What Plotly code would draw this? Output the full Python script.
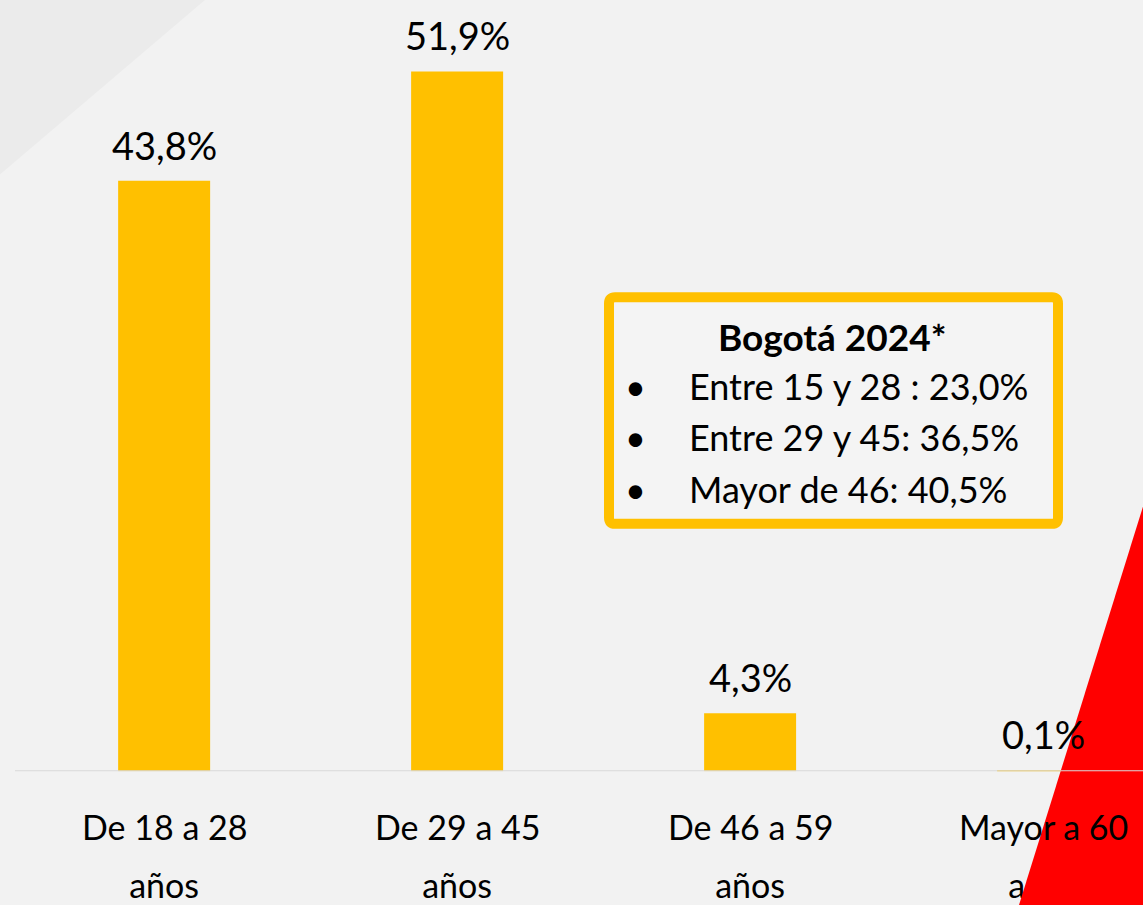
import plotly.graph_objects as go

# ---- data ----
categories = ["De 18 a 28 años", "De 29 a 45 años", "De 46 a 59 años", "Mayor a 60 años"]
values = [43.8, 51.9, 4.3, 0.1]
value_labels = ["43,8%", "51,9%", "4,3%", "0,1%"]
box_title = "Bogotá 2024*"
box_lines = ["Entre 15 y 28 : 23,0%", "Entre 29 y 45: 36,5%", "Mayor de 46: 40,5%"]

W, H = 1143, 905
FONT = "Lato"
BAR = "#FFC000"

def px(x):
    return x / W

def py(y):
    return 1 - y / H

def rounded_rect(x0, y0, x1, y1, r):
    # pixel coords -> paper path with rounded corners
    return (f"M {px(x0 + r)} {py(y0)} L {px(x1 - r)} {py(y0)} "
            f"Q {px(x1)} {py(y0)} {px(x1)} {py(y0 + r)} "
            f"L {px(x1)} {py(y1 - r)} Q {px(x1)} {py(y1)} {px(x1 - r)} {py(y1)} "
            f"L {px(x0 + r)} {py(y1)} Q {px(x0)} {py(y1)} {px(x0)} {py(y1 - r)} "
            f"L {px(x0)} {py(y0 + r)} Q {px(x0)} {py(y0)} {px(x0 + r)} {py(y0)} Z")

line1 = [c.rsplit(" ", 1)[0] for c in categories]
line2 = [c.rsplit(" ", 1)[1] for c in categories]

fig = go.Figure(go.Bar(
    x=categories, y=values, width=0.314,
    marker=dict(color=BAR, line=dict(width=0)),
    hoverinfo="skip",
))

shapes = []
# subtle top-left swoosh
shapes.append(dict(type="path", xref="paper", yref="paper",
                   path=f"M 0 1 L {px(205)} 1 L 0 {py(175)} Z",
                   fillcolor="#E8E8E8", opacity=0.7, line=dict(width=0), layer="below"))
# annotation box
shapes.append(dict(type="path", xref="paper", yref="paper",
                   path=rounded_rect(609, 298, 1058, 525, 6),
                   line=dict(color=BAR, width=10), fillcolor="rgba(245,245,245,0.6)", layer="below"))
# red triangle
shapes.append(dict(type="path", xref="paper", yref="paper",
                   path=f"M {px(1146)} {py(498)} L {px(1019)} {py(907)} L {px(1146)} {py(907)} Z",
                   fillcolor="#FF0000", line=dict(width=0), layer="above"))
# axis baseline (drawn over the triangle)
shapes.append(dict(type="line", xref="x domain", yref="y", x0=0, x1=1, y0=0, y1=0,
                   line=dict(color="#D9D9D9", width=2), layer="above"))

annotations = []
for c, v, t in zip(categories, values, value_labels):
    annotations.append(dict(x=c, y=v, xref="x", yref="y", text=t, showarrow=False,
                            yanchor="middle", yshift=36,
                            font=dict(family=FONT, size=38, color="#000000")))
for c, t in zip(categories, line1):
    annotations.append(dict(x=c, y=py(828), xref="x", yref="paper", text=t, showarrow=False,
                            yanchor="middle", font=dict(family=FONT, size=34, color="#000000")))
# box text
annotations.append(dict(x=px(832), y=py(337), xref="paper", yref="paper", text=f"<b>{box_title}</b>",
                        showarrow=False, xanchor="center", yanchor="middle",
                        font=dict(family=FONT, size=37, color="#000000")))
for i, t in enumerate(box_lines):
    yy = [387, 438, 490][i]
    annotations.append(dict(x=px(635), y=py(yy), xref="paper", yref="paper", text="•",
                            showarrow=False, xanchor="center", yanchor="middle",
                            font=dict(family=FONT, size=36, color="#000000")))
    annotations.append(dict(x=px(687), y=py(yy), xref="paper", yref="paper", text=t,
                            showarrow=False, xanchor="left", yanchor="middle",
                            font=dict(family=FONT, size=36, color="#000000")))

fig.update_layout(
    width=W, height=H,
    margin=dict(l=0, r=0, t=0, b=0),
    paper_bgcolor="#F2F2F2", plot_bgcolor="rgba(0,0,0,0)",
    showlegend=False,
    xaxis=dict(domain=[px(15), 1], range=[-0.509, 3.341], showgrid=False, zeroline=False,
               showline=False, ticks="", tickvals=categories, ticktext=line2,
               ticklabelstandoff=92, tickfont=dict(family=FONT, size=34, color="#000000"),
               fixedrange=True),
    yaxis=dict(domain=[132 / H, 1], range=[0, 57.2], visible=False, showgrid=False,
               zeroline=False, fixedrange=True),
    shapes=shapes,
    annotations=annotations,
)

fig.write_html("out.html", config={"displayModeBar": False},
               post_script="document.body.style.margin='0';document.body.style.overflow='hidden';")
